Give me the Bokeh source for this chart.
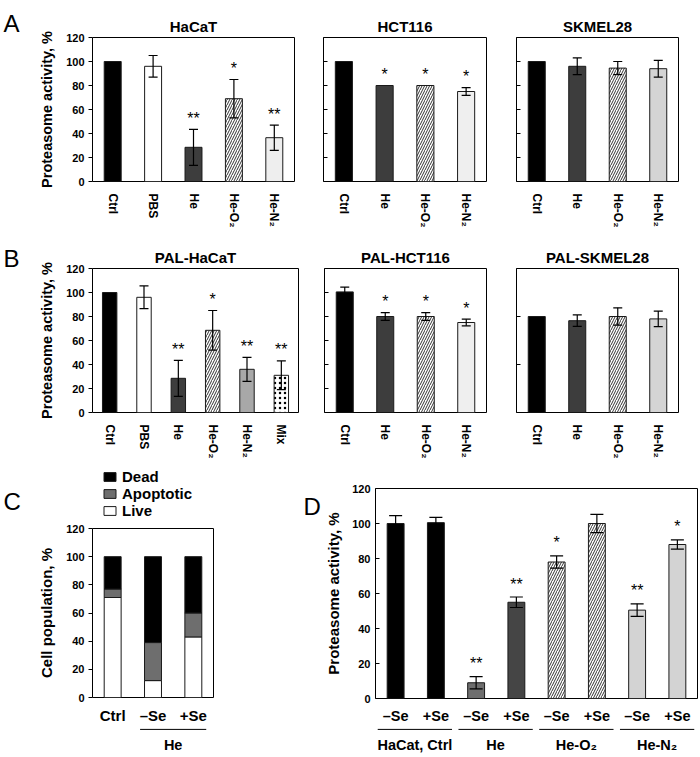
from bokeh.plotting import figure
from bokeh.models import (FactorRange, Range1d, ColumnDataSource, Whisker, TeeHead, Label,
                          Legend, LegendItem, CustomJSTickFormatter, FixedTicker)
from bokeh.layouts import column, row
from bokeh.embed import file_html
from bokeh.resources import INLINE
from bokeh.core.properties import value, field
from bokeh.transform import dodge

FONT = "Liberation Sans"

# ---------------- data ----------------
# Panel A
hacat_cats = ["Ctrl", "PBS", "He", "He-O₂", "He-N₂"]
hacat_vals = [100, 96, 28.5, 69, 36.5]
hacat_errs = [0, 9, 15, 16, 10.5]
hacat_stars = ["", "", "**", "*", "**"]

hct_cats = ["Ctrl", "He", "He-O₂", "He-N₂"]
hct_vals = [100, 80, 80, 75]
hct_errs = [0, 0, 0, 3.3]
hct_stars = ["", "*", "*", "*"]

skmel_cats = ["Ctrl", "He", "He-O₂", "He-N₂"]
skmel_vals = [100, 96, 94.5, 94]
skmel_errs = [0, 7, 5.5, 7]
skmel_stars = ["", "", "", ""]

# Panel B
pal_hacat_cats = ["Ctrl", "PBS", "He", "He-O₂", "He-N₂", "Mix"]
pal_hacat_vals = [100, 96, 28.5, 68.5, 36, 31]
pal_hacat_errs = [0, 9.5, 15, 16.5, 10, 12]
pal_hacat_stars = ["", "", "**", "*", "**", "**"]

pal_hct_cats = ["Ctrl", "He", "He-O₂", "He-N₂"]
pal_hct_vals = [100.5, 80, 80, 75]
pal_hct_errs = [4, 3.3, 3.3, 2.8]
pal_hct_stars = ["", "*", "*", "*"]

pal_skmel_cats = ["Ctrl", "He", "He-O₂", "He-N₂"]
pal_skmel_vals = [80, 76.5, 80, 78]
pal_skmel_errs = [0, 4.8, 7.2, 6.5]
pal_skmel_stars = ["", "", "", ""]

# Panel C
c_groups = ["", "He", "He"]
c_cats = ["Ctrl", "–Se", "+Se"]
c_live = [71, 12, 43]
c_apop = [6, 27, 17]
c_dead = [23, 61, 40]
c_legend = ["Dead", "Apoptotic", "Live"]

# Panel D
d_groups = ["HaCat, Ctrl", "He", "He-O₂", "He-N₂"]
d_se = ["–Se", "+Se"]
d_vals = [100, 100.5, 9, 55, 78, 100, 50.5, 88]
d_errs = [4.5, 3, 3.5, 3, 3.5, 5.2, 3.6, 2.6]
d_stars = ["", "", "**", "**", "*", "", "**", "*"]

# ---------------- styles ----------------
BAR_STYLE = {"Ctrl": ("black", " "), "PBS": ("white", " "), "He": ("#3d3d3d", " "),
             "He-O₂": ("white", "/"), "Mix": ("white", ".")}
D_STYLE = {("HaCat, Ctrl", "–Se"): ("black", " "), ("HaCat, Ctrl", "+Se"): ("black", " "),
           ("He", "–Se"): ("#6e6e6e", " "), ("He", "+Se"): ("#454545", " "),
           ("He-O₂", "–Se"): ("white", "/"), ("He-O₂", "+Se"): ("white", "/"),
           ("He-N₂", "–Se"): ("#d3d3d3", " "), ("He-N₂", "+Se"): ("#d3d3d3", " ")}
C_COLORS = {"Dead": "black", "Apoptotic": "#6e6e6e", "Live": "white"}
LINE_Y = 0.9     # group rule position inside the strip under panels C, D
GLABEL_Y = 0.36  # group label position inside that strip
STAR_SIZE = "16px"


def base_style(p):
    p.xgrid.grid_line_color = None
    p.ygrid.grid_line_color = None
    p.outline_line_color = "black"
    p.outline_line_width = 1
    p.background_fill_color = "white"
    p.border_fill_color = "white"
    for ax in list(p.xaxis) + list(p.yaxis):
        ax.axis_line_color = None
        ax.minor_tick_line_color = None
        ax.major_label_text_font = FONT
        ax.major_label_text_font_style = "bold"
        ax.major_label_text_color = "black"
        ax.axis_label_text_font = FONT
        ax.axis_label_text_font_style = "bold"
        ax.axis_label_text_color = "black"
    p.xaxis.major_tick_line_color = None


def blank_fig(width, height, x_range=None, ml=0, mr=0):
    p = figure(width=width, height=height,
               x_range=x_range if x_range is not None else Range1d(0, 1),
               y_range=Range1d(0, 1), output_backend="svg", toolbar_location=None,
               frame_align=False, x_axis_location=None, y_axis_location=None,
               min_border_left=ml, min_border_right=mr, min_border_top=0, min_border_bottom=0)
    p.outline_line_color = None
    p.grid.grid_line_color = None
    p.background_fill_color = "white"
    p.border_fill_color = "white"
    return p


def add_letter(p, txt, x, y):
    p.add_layout(Label(x=x, y=y, x_units="screen", y_units="screen", text=txt,
                       text_baseline="alphabetic", text_font=FONT,
                       text_font_size="24px", text_color="black"))


def letter_fig(txt, width, height, x, baseline):
    p = blank_fig(width, height)
    add_letter(p, txt, x, height - baseline)
    return p


def make_fig(x_range, width, height, ml, mr, mt, mb):
    return figure(x_range=x_range, y_range=Range1d(0, 120),
                  width=width, height=height, output_backend="svg", toolbar_location=None,
                  frame_align=False,
                  min_border_left=ml, min_border_right=mr, min_border_top=mt, min_border_bottom=mb)


def bar_panel(title, cats, vals, errs, stars, n2_color, width, height, ml, mr, mt, mb,
              first, yticks=(0, 20, 40, 60, 80, 100, 120)):
    p = make_fig(FactorRange(factors=cats), width, height, ml, mr, mt, mb)
    style = dict(BAR_STYLE)
    style["He-N₂"] = (n2_color, " ")
    src = ColumnDataSource(dict(
        cat=cats, val=vals,
        top=[v + e for v, e in zip(vals, errs)],
        star=stars,
        color=[style[c][0] for c in cats],
        hatch=[style[c][1] for c in cats]))
    p.vbar(x="cat", top="val", width=0.42, source=src, fill_color="color",
           line_color="#1a1a1a", line_width=1, hatch_pattern=field("hatch"),
           hatch_color="black", hatch_scale=5, hatch_weight=0.8)
    idx = [i for i, e in enumerate(errs) if e > 0]
    esrc = ColumnDataSource(dict(cat=[cats[i] for i in idx],
                                 lo=[vals[i] - errs[i] for i in idx],
                                 hi=[vals[i] + errs[i] for i in idx]))
    p.add_layout(Whisker(source=esrc, base="cat", lower="lo", upper="hi", level="overlay",
                         line_color="black", line_width=1.2,
                         upper_head=TeeHead(size=9, line_color="black", line_width=1.2),
                         lower_head=TeeHead(size=9, line_color="black", line_width=1.2)))
    p.text(x="cat", y="top", text="star", source=src, text_align="center",
           text_baseline="middle", y_offset=-11, text_font=value(FONT),
           text_font_size=STAR_SIZE, text_color="black")
    p.title.text = title
    p.title.align = "center"
    p.title.text_font = FONT
    p.title.text_font_size = "15px"
    p.title.text_font_style = "bold"
    p.title.text_color = "black"
    p.title.standoff = 5
    base_style(p)
    p.yaxis.ticker = FixedTicker(ticks=list(yticks))
    p.xaxis.major_label_orientation = "vertical"
    p.xaxis.major_label_text_font_size = "12px"
    p.xaxis.major_label_standoff = 6
    if first:
        p.yaxis.axis_label = "Proteasome activity, %"
        p.yaxis.axis_label_text_font_size = "14.5px"
        p.yaxis.axis_label_standoff = 8
        p.yaxis.major_label_text_font_size = "11px"
        p.yaxis.major_label_standoff = 4
        p.yaxis.major_tick_in = 0
        p.yaxis.major_tick_out = 4
    else:
        p.yaxis.formatter = CustomJSTickFormatter(code="return ''")
        p.yaxis.major_tick_in = 4
        p.yaxis.major_tick_out = 0
    p.yaxis.major_tick_line_color = "black"
    return p


def hide_group_labels(p):
    p.xaxis.group_text_color = None
    p.xaxis.group_text_font_size = "0px"
    p.xaxis.separator_line_color = None


def group_strip(x_range, width, height, ml, mr, groups, firsts, lasts, pad):
    p = blank_fig(width, height, x_range, ml, mr)
    src = ColumnDataSource(dict(grp=groups, lo=firsts, hi=lasts))
    p.segment(x0=dodge("lo", -pad, range=x_range), x1=dodge("hi", pad, range=x_range),
              y0=LINE_Y, y1=LINE_Y, source=src, line_color="black", line_width=1)
    p.text(x="grp", y=GLABEL_Y, text="grp", source=src, text_align="center",
           text_baseline="middle", text_font=value(FONT), text_font_size="14.5px",
           text_font_style="bold", text_color="black")
    return p


# ---------------- row A ----------------
la = letter_fig("A", 22, 230, 3, 23)
a1 = bar_panel("HaCaT", hacat_cats, hacat_vals, hacat_errs, hacat_stars, "#eeeeee",
               283, 230, 70, 11, 37, 49, True)
a2 = bar_panel("HCT116", hct_cats, hct_vals, hct_errs, hct_stars, "#efefef",
               196, 230, 18, 15, 37, 49, False)
a3 = bar_panel("SKMEL28", skmel_cats, skmel_vals, skmel_errs, skmel_stars, "#d4d4d4",
               187, 230, 15, 10, 37, 49, False)

# ---------------- row B ----------------
lb = letter_fig("B", 22, 236, 3, 28)
b1 = bar_panel("PAL-HaCaT", pal_hacat_cats, pal_hacat_vals, pal_hacat_errs, pal_hacat_stars,
               "#a8a8a8", 288, 236, 70, 12, 38, 54, True)
b2 = bar_panel("PAL-HCT116", pal_hct_cats, pal_hct_vals, pal_hct_errs, pal_hct_stars,
               "#efefef", 191, 236, 14, 15, 38, 54, False)
b3 = bar_panel("PAL-SKMEL28", pal_skmel_cats, pal_skmel_vals, pal_skmel_errs, pal_skmel_stars,
               "#d4d4d4", 187, 236, 15, 10, 38, 54, False, yticks=(0, 40, 80, 120))

# ---------------- panel C ----------------
c_factors = list(zip(c_groups, c_cats))
c_range = FactorRange(factors=c_factors, group_padding=0)

c_top = blank_fig(288, 54)
add_letter(c_top, "C", 3, 19)
# legend swatch renderers: one zero-height bar each, outside the strip's visible range
swatch = ColumnDataSource(dict(x=[-1.0], top=[-1.0]))
leg_items = []
for name in c_legend:
    r = c_top.vbar(x="x", top="top", bottom="top", width=0.1, source=swatch,
                   fill_color=C_COLORS[name], line_color="#1a1a1a", line_width=1)
    leg_items.append(LegendItem(label=name, renderers=[r]))
c_top.add_layout(Legend(items=leg_items, location=(102, 1), padding=0, margin=0, spacing=0,
                        label_height=17, glyph_height=11, glyph_width=15, label_standoff=5,
                        label_text_font=FONT, label_text_font_size="15px",
                        label_text_font_style="bold", label_text_color="black",
                        border_line_color=None, background_fill_alpha=0))

pc = make_fig(c_range, 288, 206, 92, 75, 8, 26)
csrc = ColumnDataSource(dict(x=c_factors, live=c_live, apop=c_apop, dead=c_dead))
pc.vbar_stack(["live", "apop", "dead"], x="x", width=0.42, source=csrc,
              fill_color=[C_COLORS["Live"], C_COLORS["Apoptotic"], C_COLORS["Dead"]],
              line_color="#1a1a1a", line_width=1)
base_style(pc)
pc.yaxis.ticker = FixedTicker(ticks=[0, 20, 40, 60, 80, 100, 120])
pc.yaxis.axis_label = "Cell population, %"
pc.yaxis.axis_label_text_font_size = "15px"
pc.yaxis.axis_label_standoff = 8
pc.yaxis.major_label_text_font_size = "11px"
pc.yaxis.major_label_standoff = 4
pc.yaxis.major_tick_in = 0
pc.yaxis.major_tick_out = 4
pc.yaxis.major_tick_line_color = "black"
pc.xaxis.major_label_text_font_size = "15px"
pc.xaxis.major_label_standoff = 3
hide_group_labels(pc)
c_named = [g for g in dict.fromkeys(c_groups) if g]
c_bottom = group_strip(c_range, 288, 29, 92, 75, c_named,
                       [[f for f in c_factors if f[0] == g][0] for g in c_named],
                       [[f for f in c_factors if f[0] == g][-1] for g in c_named], 0.32)
c_col = column(c_top, pc, c_bottom)

# ---------------- panel D ----------------
d_factors = [(g, s) for g in d_groups for s in d_se]
d_range = FactorRange(factors=d_factors, group_padding=0)
ld = letter_fig("D", 34, 289, 15, 40)
pd_ = make_fig(d_range, 376, 260, 52, 1, 22, 26)
dsrc = ColumnDataSource(dict(x=d_factors, val=d_vals,
                             top=[v + e for v, e in zip(d_vals, d_errs)],
                             lo=[v - e for v, e in zip(d_vals, d_errs)],
                             star=d_stars,
                             color=[D_STYLE[f][0] for f in d_factors],
                             hatch=[D_STYLE[f][1] for f in d_factors]))
pd_.vbar(x="x", top="val", width=0.42, source=dsrc, fill_color="color",
         line_color="#1a1a1a", line_width=1, hatch_pattern=field("hatch"),
         hatch_color="black", hatch_scale=5, hatch_weight=0.8)
pd_.add_layout(Whisker(source=dsrc, base="x", lower="lo", upper="top", level="overlay",
                       line_color="black", line_width=1.2,
                       upper_head=TeeHead(size=13, line_color="black", line_width=1.2),
                       lower_head=TeeHead(size=13, line_color="black", line_width=1.2)))
pd_.text(x="x", y="top", text="star", source=dsrc, text_align="center",
         text_baseline="middle", y_offset=-13, text_font=value(FONT),
         text_font_size=STAR_SIZE, text_color="black")
base_style(pd_)
pd_.yaxis.ticker = FixedTicker(ticks=[0, 20, 40, 60, 80, 100, 120])
pd_.yaxis.axis_label = "Proteasome activity, %"
pd_.yaxis.axis_label_text_font_size = "15px"
pd_.yaxis.axis_label_standoff = 7
pd_.yaxis.major_label_text_font_size = "11px"
pd_.yaxis.major_label_standoff = 5
pd_.yaxis.major_tick_in = 4
pd_.yaxis.major_tick_out = 0
pd_.yaxis.major_tick_line_color = "black"
pd_.xaxis.major_label_text_font_size = "14.5px"
pd_.xaxis.major_label_standoff = 3
hide_group_labels(pd_)
d_bottom = group_strip(d_range, 376, 29, 52, 1, d_groups,
                       [(g, d_se[0]) for g in d_groups], [(g, d_se[-1]) for g in d_groups], 0.42)
d_col = column(pd_, d_bottom)

layout = column(row(la, a1, a2, a3), row(lb, b1, b2, b3), row(c_col, ld, d_col))
open("out.html", "w").write(file_html(layout, INLINE))
